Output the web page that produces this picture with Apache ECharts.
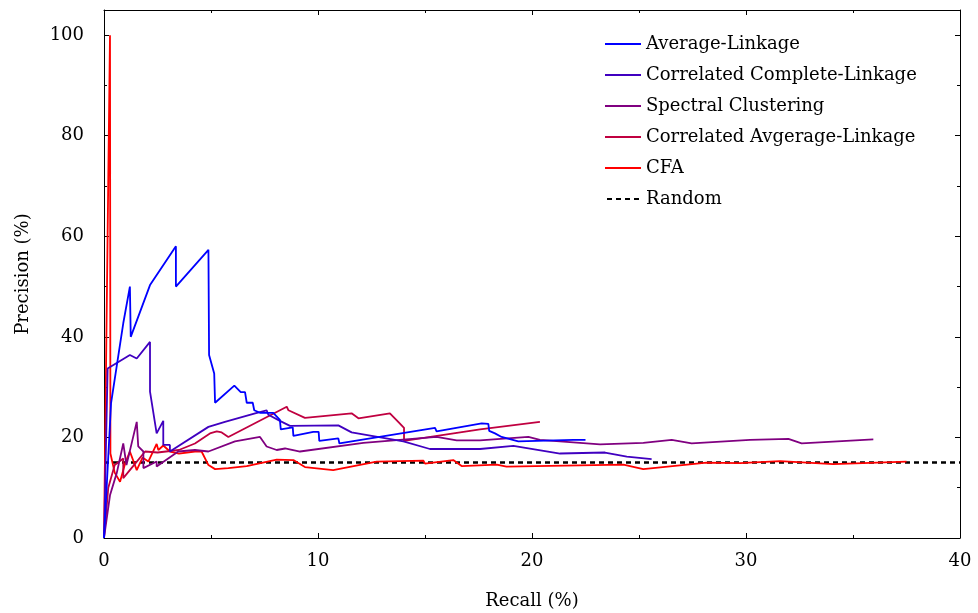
<!DOCTYPE html>
<html>
<head>
<meta charset="utf-8">
<script src="https://cdn.jsdelivr.net/npm/echarts@6/dist/echarts.min.js"></script>
<style>
html, body { margin: 0; padding: 0; background: #fff; }
#container { width: 978px; height: 613px; }
</style>
</head>
<body>
<div id="container"></div>
<script>
// recall (%), precision (%) pairs
var avgLinkage = [[0,0],[0.33,26.8],[0.9,42.7],[1.21,50],[1.25,40],[2.15,50.3],[3.36,58],[3.36,50],[4.88,57.3],[4.91,36.4],[5.15,32.7],[5.19,26.9],[6.09,30.3],[6.39,29],[6.59,29],[6.67,26.9],[6.95,26.9],[7.02,25.4],[7.29,24.9],[7.91,24.9],[8.22,23.5],[8.26,21.6],[8.82,22],[8.85,20.3],[9.78,21.1],[10.03,21.1],[10.06,19.3],[10.95,19.8],[11.0,18.8],[15.47,21.9],[15.54,21.2],[17.65,22.8],[17.96,22.7],[18.0,21.3],[18.27,20.8],[18.58,20.1],[19.36,19.2],[21.93,19.5],[22.5,19.5]];
var corrComplete = [[0,0],[0.17,33.7],[1.21,36.4],[1.53,35.7],[2.15,39],[2.15,29.1],[2.46,20.8],[2.77,23.3],[2.77,18.5],[3.08,18.5],[3.08,17.2],[4.88,22.1],[5.65,23.1],[7.06,24.8],[7.6,25.4],[7.68,24.5],[8.22,23.3],[8.69,22.3],[10.95,22.4],[11.03,22.5],[11.57,21],[13.99,19.2],[15.23,17.7],[17.57,17.7],[19.13,18.3],[21.31,16.8],[23.41,17.0],[24.43,16.2],[25.59,15.7]];
var spectral = [[0,0],[0.28,8.5],[0.6,13],[0.9,18.8],[1.05,14.5],[1.53,23.1],[1.6,18.2],[1.84,17.2],[1.84,13.9],[2.46,15.2],[2.46,14.2],[3.47,17.2],[4.25,17.5],[4.88,17.2],[6.12,19.2],[7.29,20.1],[7.6,18.2],[8.07,17.5],[8.46,17.8],[9.16,17.2],[12.12,18.9],[15.54,20.1],[16.48,19.4],[17.57,19.4],[19.83,20.1],[20.37,19.5],[21.93,19.0],[23.18,18.6],[25.2,18.9],[26.53,19.5],[27.46,18.8],[30.19,19.5],[31.98,19.7],[32.6,18.8],[35.95,19.6]];
var corrAverage = [[0,0],[0.2,10],[0.5,14.5],[0.9,15.8],[0.9,11.9],[1.4,14.5],[1.92,17.2],[2.5,17],[3.5,17.5],[4.25,18.8],[4.95,20.8],[5.27,21.2],[5.5,21],[5.81,20.1],[8.54,26.1],[8.62,25.4],[9.39,23.9],[11.57,24.8],[11.89,23.8],[13.36,24.8],[13.75,23.1],[14.02,21.9],[14.02,19.3],[17.57,21.6],[20.37,23.1]];
var cfa = [[0,0],[0.28,100],[0.3,16.8],[0.5,13],[0.75,11.2],[1.0,15],[1.21,17.2],[1.53,13.5],[1.8,16],[2.07,15.2],[2.46,18.7],[2.54,17.5],[2.77,18.4],[3.08,17.2],[3.5,16.8],[4.25,17.2],[4.56,17.2],[4.88,14.5],[5.19,13.7],[5.81,13.9],[6.67,14.3],[8.07,15.6],[8.85,15.5],[9.39,14.1],[10.71,13.5],[12.74,15.2],[14.92,15.4],[15.0,14.8],[16.32,15.5],[16.71,14.3],[18.35,14.6],[18.81,14.2],[24.27,14.6],[25.2,13.7],[28.16,15.0],[29.72,14.9],[31.59,15.3],[34.08,14.7],[37.5,15.2]];
var random = [[0,15],[40,15]];

var names = ['Average-Linkage','Correlated Complete-Linkage','Spectral Clustering','Correlated Avgerage-Linkage','CFA','Random'];
var colors = ['#0000ff','#4000c0','#800080','#c00040','#ff0000','#000000'];
var seriesData = [avgLinkage, corrComplete, spectral, corrAverage, cfa, random];

var font = 'DejaVu Serif';
var fsize = 18;

var myChart = echarts.init(document.getElementById('container'));

var series = [];
var legendData = [];
for (var i = 0; i < seriesData.length; i++) {
    series.push({
        name: names[i],
        type: 'line',
        data: seriesData[i],
        symbol: 'none',
        animation: false,
        z: 10 - i,
        lineStyle: {
            color: colors[i],
            width: i == 5 ? 2.4 : 1.8,
            type: i == 5 ? [5, 4] : 'solid'
        },
        itemStyle: { color: colors[i] }
    });
    legendData.push({
        name: names[i],
        icon: i == 5 ? 'path://M0,0h5v2h-5zM9,0h5v2h-5zM18,0h5v2h-5zM27,0h5v2h-5z' : 'rect'
    });
}

function frameAxis(pos, max, interval, show) {
    return {
        type: 'value',
        position: pos,
        min: 0,
        max: max,
        interval: interval,
        splitLine: { show: false },
        axisLine: { show: true, onZero: false, lineStyle: { color: '#000', width: 1 } },
        axisTick: { show: true, inside: true, length: 5, lineStyle: { color: '#000' } },
        minorTick: { show: true, splitNumber: 2, length: 3, lineStyle: { color: '#000' } },
        axisLabel: { show: show }
    };
}

var xBottom = frameAxis('bottom', 40, 10, true);
xBottom.name = 'Recall (%)';
xBottom.nameLocation = 'middle';
xBottom.nameGap = 54;
xBottom.nameTextStyle = { fontFamily: font, fontSize: fsize, color: '#000' };
xBottom.axisLabel = { show: true, margin: 14, fontFamily: font, fontSize: fsize, color: '#000' };

var yLeft = frameAxis('left', 105, 20, true);
yLeft.name = 'Precision (%)';
yLeft.nameLocation = 'middle';
yLeft.nameGap = 72;
yLeft.nameTextStyle = { fontFamily: font, fontSize: fsize, color: '#000' };
yLeft.axisLabel = { show: true, margin: 20, fontFamily: font, fontSize: fsize, color: '#000', showMaxLabel: false };

option = {
    backgroundColor: '#fff',
    animation: false,
    grid: { left: 104, right: 18, top: 10, bottom: 75, outerBoundsMode: 'none', containLabel: false },
    legend: {
        data: legendData,
        orient: 'vertical',
        left: 605,
        top: 35,
        padding: 0,
        itemWidth: 36,
        itemHeight: 2,
        itemGap: 13,
        textStyle: { fontFamily: font, fontSize: fsize, color: '#000' }
    },
    xAxis: [xBottom, frameAxis('top', 40, 10, false)],
    yAxis: [yLeft, frameAxis('right', 105, 20, false)],
    series: series
};

if (option && typeof option === "object") {
    myChart.setOption(option, true);
}
</script>
</body>
</html>
